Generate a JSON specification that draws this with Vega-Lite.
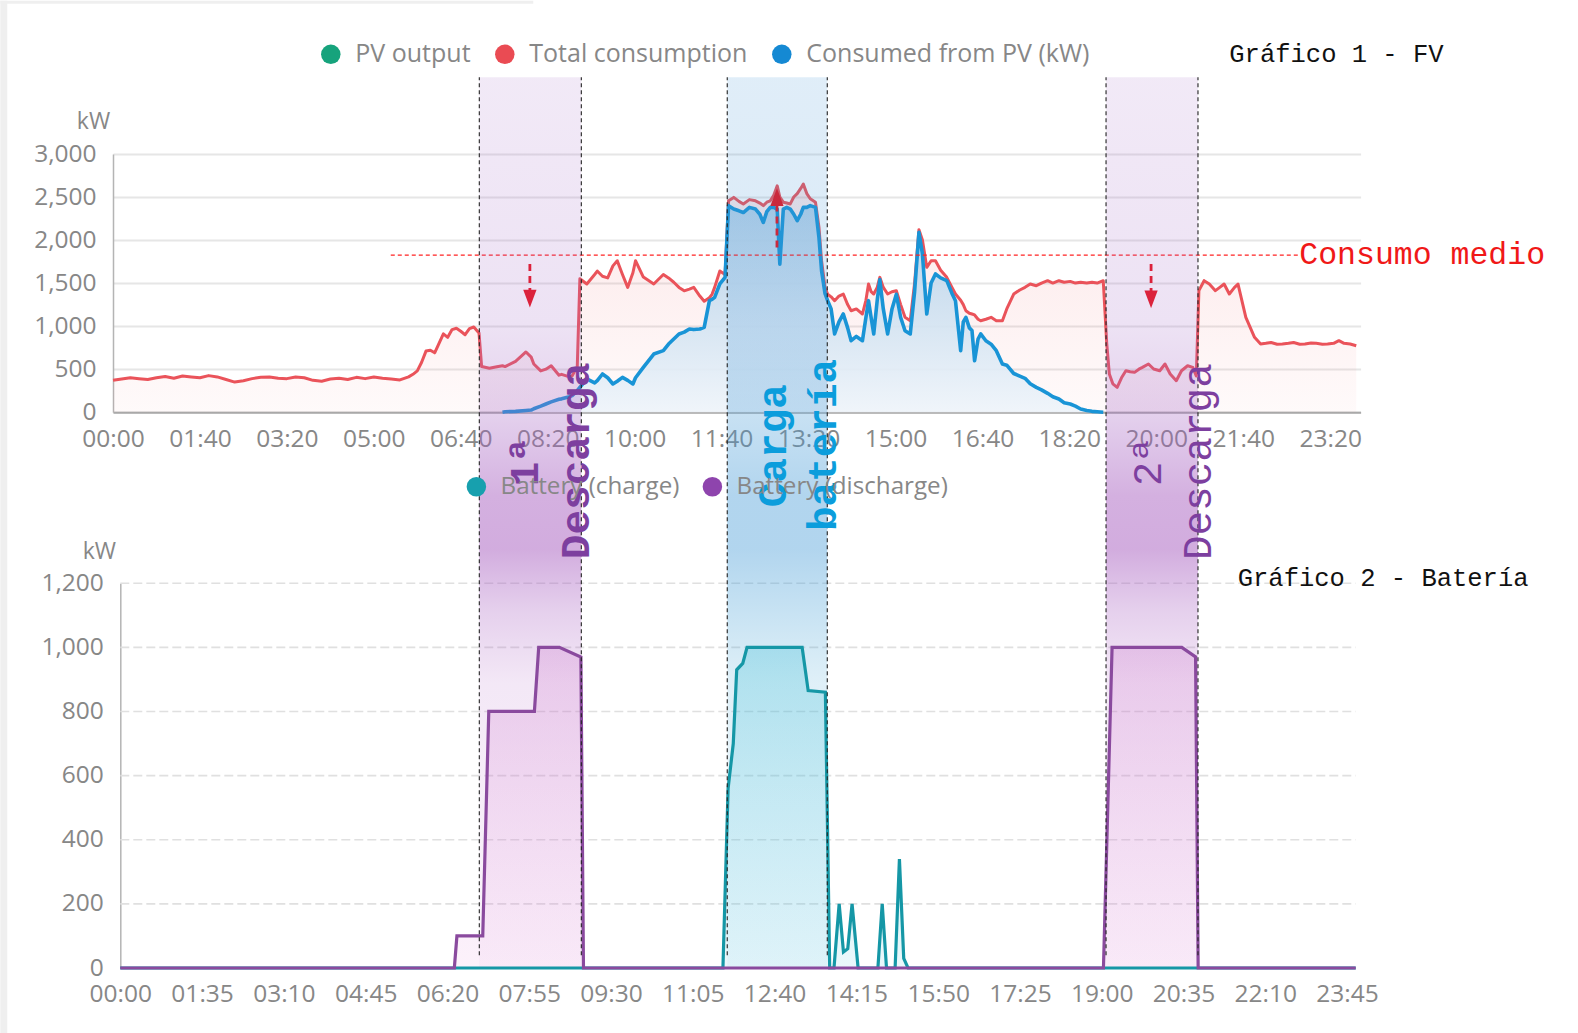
{
  "$schema": "https://vega.github.io/schema/vega-lite/v6.json",
  "padding": {"left": 0, "top": 0, "right": 0, "bottom": 25},
  "background": "white",
  "spacing": 170.2,
  "bounds": "flush",
  "resolve": {"scale": {"color": "independent"}, "legend": {"color": "independent"}},
  "config": {
    "font": "Open Sans",
    "view": {"stroke": null},
    "axis": {"labelFont": "Open Sans", "labelFontSize": 24.5, "labelColor": "#878787", "titleFont": "Open Sans", "titleFontSize": 23, "titleColor": "#878787", "titleFontWeight": "normal", "ticks": false, "grid": false, "labelFlush": false, "labelOverlap": false},
    "legend": {"labelFont": "Open Sans", "labelFontSize": 25, "labelColor": "#878787", "labelLimit": 0}
  },
  "datasets": {
    "pvdata": [
      {"t":0,"total":370},{"t":10,"total":385},{"t":20,"total":400},{"t":30,"total":390},{"t":40,"total":380},{"t":50,"total":400},{"t":60,"total":415},{"t":70,"total":395},{"t":80,"total":420},{"t":90,"total":410},{"t":100,"total":400},{"t":110,"total":425},{"t":120,"total":410},{"t":130,"total":380},{"t":140,"total":350},{"t":150,"total":365},{"t":160,"total":390},{"t":170,"total":405},{"t":180,"total":410},{"t":190,"total":395},{"t":200,"total":390},{"t":210,"total":410},{"t":220,"total":400},{"t":230,"total":370},{"t":240,"total":360},{"t":250,"total":385},{"t":260,"total":395},{"t":270,"total":380},{"t":280,"total":405},{"t":290,"total":390},{"t":300,"total":410},{"t":310,"total":395},{"t":320,"total":385},{"t":330,"total":375},{"t":340,"total":410},{"t":345,"total":440},{"t":350,"total":480},{"t":355,"total":580},{"t":360,"total":710},{"t":365,"total":720},{"t":370,"total":690},{"t":375,"total":800},{"t":380,"total":910},{"t":385,"total":870},{"t":390,"total":960},{"t":395,"total":975},{"t":400,"total":940},{"t":405,"total":900},{"t":410,"total":970},{"t":415,"total":990},{"t":421,"total":920},{"t":424,"total":530},{"t":433,"total":510},{"t":440,"total":525},
      {"t":448,"total":540,"pv":0},{"t":451,"total":530,"pv":5},{"t":463,"total":590,"pv":10},{"t":475,"total":700,"pv":20},{"t":481,"total":640,"pv":25},{"t":484,"total":560,"pv":40},{"t":492,"total":480,"pv":70},{"t":498,"total":500,"pv":95},{"t":504,"total":540,"pv":120},{"t":513,"total":430,"pv":150},{"t":516,"total":440,"pv":155},{"t":525,"total":410,"pv":180},{"t":528,"total":420,"pv":192},{"t":534,"total":530,"pv":250},{"t":537,"total":1550,"pv":289},{"t":545,"total":1490,"pv":386},{"t":554,"total":1600,"pv":340},{"t":557,"total":1640,"pv":366},{"t":563,"total":1580,"pv":444},{"t":569,"total":1560,"pv":400},{"t":575,"total":1700,"pv":328},{"t":580,"total":1760,"pv":360},{"t":586,"total":1600,"pv":405},{"t":592,"total":1450,"pv":370},{"t":598,"total":1620,"pv":328},{"t":601,"total":1760,"pv":400},{"t":610,"total":1570,"pv":521},{"t":622,"total":1490,"pv":676},{"t":633,"total":1600,"pv":715},{"t":639,"total":1560,"pv":792},{"t":645,"total":1510,"pv":850},{"t":651,"total":1450,"pv":909},{"t":657,"total":1410,"pv":930},{"t":663,"total":1430,"pv":967},{"t":668,"total":1450,"pv":960},{"t":675,"total":1350,"pv":967},{"t":680,"total":1290,"pv":985},{"t":686,"total":1330,"pv":1296},{"t":689,"total":1370,"pv":1310},{"t":692,"total":1450,"pv":1334},{"t":698,"total":1640,"pv":1490},{"t":704,"total":1600,"pv":1567},
      {"t":708,"total":2456,"pv":2400},{"t":714,"total":2496,"pv":2360},{"t":720,"total":2450,"pv":2340},{"t":725,"total":2420,"pv":2320},{"t":732,"total":2470,"pv":2380},{"t":739,"total":2456,"pv":2360},{"t":744,"total":2430,"pv":2300},{"t":748,"total":2400,"pv":2205},{"t":752,"total":2440,"pv":2330},{"t":756,"total":2456,"pv":2380},{"t":760,"total":2520,"pv":2380},{"t":764,"total":2630,"pv":2360},{"t":767,"total":2500,"pv":1720},{"t":771,"total":2440,"pv":2360},{"t":775,"total":2430,"pv":2380},{"t":779,"total":2420,"pv":2360},{"t":783,"total":2500,"pv":2300},{"t":787,"total":2540,"pv":2225},{"t":791,"total":2600,"pv":2300},{"t":794,"total":2650,"pv":2380},{"t":798,"total":2540,"pv":2380},{"t":802,"total":2480,"pv":2400},{"t":808,"total":2440,"pv":2380},{"t":812,"total":2150,"pv":2030},{"t":815,"total":1760,"pv":1645},{"t":819,"total":1450,"pv":1377},{"t":822,"total":1370,"pv":1296},
      {"t":826,"total":1340,"pv":1200},{"t":830,"total":1295,"pv":909},{"t":835,"total":1350,"pv":1050},{"t":840,"total":1373,"pv":1141},{"t":845,"total":1250,"pv":980},{"t":849,"total":1179,"pv":831},{"t":855,"total":1200,"pv":880},{"t":862,"total":1141,"pv":831},{"t":866,"total":1300,"pv":1100},{"t":869,"total":1490,"pv":1296},{"t":872,"total":1400,"pv":1100},{"t":875,"total":1373,"pv":909},{"t":879,"total":1450,"pv":1300},{"t":882,"total":1567,"pv":1540},{"t":886,"total":1450,"pv":1200},{"t":891,"total":1373,"pv":909},{"t":896,"total":1400,"pv":1200},{"t":901,"total":1412,"pv":1370},{"t":906,"total":1250,"pv":1100},{"t":911,"total":1102,"pv":947},{"t":917,"total":1063,"pv":909},{"t":922,"total":1500,"pv":1400},{"t":927,"total":2120,"pv":2090},{"t":931,"total":2000,"pv":1840},{"t":936,"total":1683,"pv":1141},{"t":941,"total":1760,"pv":1500},{"t":946,"total":1760,"pv":1606},{"t":952,"total":1650,"pv":1560},{"t":959,"total":1567,"pv":1528},{"t":965,"total":1450,"pv":1380},{"t":969,"total":1373,"pv":1296},{"t":975,"total":1300,"pv":715},{"t":978,"total":1250,"pv":1050},{"t":981,"total":1179,"pv":1102},{"t":985,"total":1150,"pv":980},{"t":988,"total":1141,"pv":950},{"t":991,"total":1130,"pv":598},{"t":995,"total":1080,"pv":850},{"t":998,"total":1063,"pv":909},{"t":1004,"total":1080,"pv":830},{"t":1010,"total":1102,"pv":790},{"t":1016,"total":1063,"pv":715},{"t":1023,"total":1063,"pv":560},{"t":1028,"total":1200,"pv":546},{"t":1036,"total":1373,"pv":450},{"t":1043,"total":1420,"pv":420},{"t":1049,"total":1451,"pv":394},{"t":1055,"total":1490,"pv":330},{"t":1062,"total":1470,"pv":289},{"t":1068,"total":1500,"pv":260},{"t":1075,"total":1528,"pv":219},{"t":1081,"total":1500,"pv":180},{"t":1088,"total":1528,"pv":153},{"t":1094,"total":1510,"pv":110},{"t":1101,"total":1520,"pv":95},{"t":1107,"total":1500,"pv":70},{"t":1113,"total":1510,"pv":37},{"t":1120,"total":1500,"pv":20},{"t":1126,"total":1510,"pv":10},{"t":1132,"total":1500,"pv":5},{"t":1139,"total":1528,"pv":0},
      {"t":1143,"total":800},{"t":1146,"total":444},{"t":1150,"total":330},{"t":1155,"total":289},{"t":1160,"total":400},{"t":1165,"total":482},{"t":1170,"total":470},{"t":1175,"total":463},{"t":1180,"total":500},{"t":1184,"total":521},{"t":1191,"total":560},{"t":1197,"total":502},{"t":1204,"total":482},{"t":1210,"total":560},{"t":1216,"total":444},{"t":1223,"total":366},{"t":1229,"total":482},{"t":1236,"total":540},{"t":1242,"total":521},{"t":1246,"total":420},{"t":1249,"total":1412},{"t":1255,"total":1528},{"t":1261,"total":1489},{"t":1268,"total":1412},{"t":1273,"total":1450},{"t":1278,"total":1489},{"t":1284,"total":1373},{"t":1290,"total":1450},{"t":1294,"total":1489},{"t":1303,"total":1102},{"t":1313,"total":870},{"t":1320,"total":792},{"t":1326,"total":800},{"t":1332,"total":810},{"t":1339,"total":790},{"t":1345,"total":792},{"t":1352,"total":800},{"t":1358,"total":810},{"t":1365,"total":790},{"t":1371,"total":792},{"t":1378,"total":805},{"t":1384,"total":800},{"t":1391,"total":790},{"t":1397,"total":792},{"t":1404,"total":800},{"t":1410,"total":831},{"t":1416,"total":800},{"t":1423,"total":792},{"t":1430,"total":772}
    ],
    "batdata": [
      {"t":0,"ch":0,"dis":0},{"t":388,"ch":0,"dis":0},{"t":391,"ch":0,"dis":100},{"t":421,"ch":0,"dis":100},{"t":428,"ch":0,"dis":800},{"t":481,"ch":0,"dis":800},{"t":486,"ch":0,"dis":1000},{"t":510,"ch":0,"dis":1000},{"t":535,"ch":0,"dis":970},{"t":538,"ch":0,"dis":0},
      {"t":700,"ch":0,"dis":0},{"t":706,"ch":560,"dis":0},{"t":712,"ch":700,"dis":0},{"t":716,"ch":930,"dis":0},{"t":723,"ch":950,"dis":0},{"t":728,"ch":1000,"dis":0},{"t":792,"ch":1000,"dis":0},{"t":799,"ch":865,"dis":0},{"t":819,"ch":860,"dis":0},{"t":824,"ch":0,"dis":0},{"t":829,"ch":0,"dis":0},{"t":835,"ch":200,"dis":0},{"t":840,"ch":50,"dis":0},{"t":845,"ch":60,"dis":0},{"t":850,"ch":200,"dis":0},{"t":857,"ch":0,"dis":0},{"t":880,"ch":0,"dis":0},{"t":885,"ch":200,"dis":0},{"t":890,"ch":0,"dis":0},{"t":900,"ch":0,"dis":0},{"t":905,"ch":340,"dis":0},{"t":910,"ch":30,"dis":0},{"t":915,"ch":0,"dis":0},
      {"t":1142,"ch":0,"dis":0},{"t":1152,"ch":0,"dis":1000},{"t":1233,"ch":0,"dis":1000},{"t":1249,"ch":0,"dis":970},{"t":1252,"ch":0,"dis":0},{"t":1435,"ch":0,"dis":0}
    ]
  },
  "vconcat": [
    {
      "width": 1247.6,
      "height": 258.2,
      "data": {"name": "pvdata"},
      "layer": [
        {
          "mark": {"type": "area", "line": false, "color": {"gradient": "linear", "x1": 0, "y1": 0, "x2": 0, "y2": 1, "stops": [{"offset": 0, "color": "rgba(238,95,100,0.15)"}, {"offset": 1, "color": "rgba(238,95,100,0.03)"}]}},
          "encoding": {
            "x": {"field": "t", "type": "quantitative", "title": null, "scale": {"domain": [0, 1435], "nice": false, "zero": false},
                  "axis": {"values": [0,100,200,300,400,500,600,700,800,900,1000,1100,1200,1300,1400], "labelExpr": "(datum.value < 600 ? '0' : '') + floor(datum.value / 60) + ':' + (datum.value % 60 < 10 ? '0' : '') + (datum.value % 60)", "domainColor": "#a9a9a9", "domainWidth": 2, "labelPadding": 15}},
            "y": {"field": "total", "type": "quantitative", "title": "kW", "scale": {"domain": [0, 3000], "nice": false},
                  "axis": {"values": [0,500,1000,1500,2000,2500,3000], "labelExpr": "datum.value >= 1000 ? floor(datum.value / 1000) + ',' + (datum.value % 1000 == 0 ? '000' : '' + (datum.value % 1000)) : '' + datum.value", "titleAngle": 0, "titleX": -20, "titleY": -32.5, "titleAlign": "center", "titleBaseline": "middle", "grid": true, "gridColor": "#e6e6e6", "gridWidth": 2, "domainColor": "#b4b4b4", "domainWidth": 1.5, "labelPadding": 17}}
          }
        },
        {
          "mark": {"type": "area", "line": false, "color": {"gradient": "linear", "x1": 0, "y1": 0, "x2": 0, "y2": 1, "stops": [{"offset": 0, "color": "rgba(176,207,232,0.93)"}, {"offset": 1, "color": "rgba(238,244,250,0.9)"}]}},
          "encoding": {"x": {"field": "t", "type": "quantitative", "title": null}, "y": {"field": "pv", "type": "quantitative", "title": "kW"}}
        },
        {
          "mark": {"type": "line", "stroke": "#ea535a", "strokeWidth": 3, "strokeJoin": "round"},
          "encoding": {"x": {"field": "t", "type": "quantitative", "title": null}, "y": {"field": "total", "type": "quantitative", "title": "kW"}}
        },
        {
          "mark": {"type": "line", "stroke": "#1994d6", "strokeWidth": 3.6, "strokeJoin": "round"},
          "encoding": {"x": {"field": "t", "type": "quantitative", "title": null}, "y": {"field": "pv", "type": "quantitative", "title": "kW"}}
        },
        {
          "data": {"values": [{"s": "PV output", "t": 0, "v": 0}, {"s": "Total consumption", "t": 0, "v": 0}, {"s": "Consumed from PV (kW)", "t": 0, "v": 0}]},
          "mark": {"type": "point", "filled": true, "opacity": 0},
          "encoding": {
            "x": {"field": "t", "type": "quantitative", "title": null}, "y": {"field": "v", "type": "quantitative", "title": "kW"},
            "color": {"field": "s", "type": "nominal", "scale": {"domain": ["PV output", "Total consumption", "Consumed from PV (kW)"], "range": ["#16a37c", "#ea4b53", "#1589d3"]},
                      "legend": {"orient": "none", "legendX": 205.3, "legendY": -112.4, "direction": "horizontal", "title": null, "symbolType": "circle", "symbolSize": 380, "symbolOpacity": 1, "symbolStrokeWidth": 0, "labelOffset": 12, "columnPadding": 21, "padding": 0}}
          }
        },
        {
          "data": {"values": [{"t1": 319.5, "t2": 1364.5, "v": 1826}]},
          "mark": {"type": "rule", "stroke": "#ff2222", "strokeWidth": 1.2, "strokeDash": [4, 3]},
          "encoding": {"x": {"field": "t1", "type": "quantitative", "title": null}, "x2": {"field": "t2", "title": null}, "y": {"field": "v", "type": "quantitative", "title": "kW"}}
        },
        {
          "data": {"values": [{"t": 1364.5, "v": 1722, "label": "Consumo medio"}]},
          "mark": {"type": "text", "font": "Liberation Mono", "fontSize": 31.5, "color": "#f01818", "align": "left", "baseline": "alphabetic"},
          "encoding": {"x": {"field": "t", "type": "quantitative", "title": null}, "y": {"field": "v", "type": "quantitative", "title": "kW"}, "text": {"field": "label"}}
        },
        {
          "data": {"values": [{"t": 479.5, "v1": 1722, "v2": 1400}, {"t": 1194, "v1": 1722, "v2": 1400}, {"t": 763.7, "v1": 1915, "v2": 2420}]},
          "mark": {"type": "rule", "stroke": "#e8101a", "strokeWidth": 2.8, "strokeDash": [7, 5]},
          "encoding": {"x": {"field": "t", "type": "quantitative", "title": null}, "y": {"field": "v1", "type": "quantitative", "title": "kW"}, "y2": {"field": "v2", "title": "kW"}}
        },
        {
          "data": {"values": [{"t": 479.5, "v": 1320}, {"t": 1194, "v": 1310}]},
          "mark": {"type": "point", "filled": true, "shape": "M-0.75,-1L0.75,-1L0,1Z", "size": 313, "color": "#e8101a", "opacity": 1},
          "encoding": {"x": {"field": "t", "type": "quantitative", "title": null}, "y": {"field": "v", "type": "quantitative", "title": "kW"}}
        },
        {
          "data": {"values": [{"t": 763.7, "v": 2500}]},
          "mark": {"type": "point", "filled": true, "shape": "M-0.75,1L0.75,1L0,-1Z", "size": 313, "color": "#e8101a", "opacity": 1},
          "encoding": {"x": {"field": "t", "type": "quantitative", "title": null}, "y": {"field": "v", "type": "quantitative", "title": "kW"}}
        },
        {
          "data": {"values": [{"t": 1284, "v": 4064, "label": "Gráfico 1 - FV"}]},
          "mark": {"type": "text", "font": "Liberation Mono", "fontSize": 25.5, "color": "#111111", "align": "left", "baseline": "alphabetic"},
          "encoding": {"x": {"field": "t", "type": "quantitative", "title": null}, "y": {"field": "v", "type": "quantitative", "title": "kW"}, "text": {"field": "label"}}
        },
        {
          "data": {"values": [{"a": -129.63, "b": -121.6, "lo": -7221, "hi": 4781}, {"a": -129.63, "b": 483.4, "lo": 4746, "hi": 4781}]},
          "mark": {"type": "rect", "color": "#efefef"},
          "encoding": {"x": {"field": "a", "type": "quantitative", "title": null}, "x2": {"field": "b", "title": null}, "y": {"field": "lo", "type": "quantitative", "title": "kW"}, "y2": {"field": "hi", "title": "kW"}}
        },
        {
          "data": {"values": [{"t": -129.63, "v": 4781}]},
          "mark": {"type": "point", "size": 0, "opacity": 0, "strokeWidth": 0},
          "encoding": {"x": {"field": "t", "type": "quantitative", "title": null}, "y": {"field": "v", "type": "quantitative", "title": "kW"}}
        }
      ]
    },
    {
      "width": 1242.7,
      "height": 384.8,
      "layer": [
        {
          "data": {"values": [{"g": 200, "a": 0, "b": 1435}, {"g": 400, "a": 0, "b": 1435}, {"g": 600, "a": 0, "b": 1435}, {"g": 800, "a": 0, "b": 1435}, {"g": 1000, "a": 0, "b": 1435}, {"g": 1200, "a": 0, "b": 1435}]},
          "mark": {"type": "rule", "stroke": "#e0e0e0", "strokeWidth": 1.6, "strokeDash": [9, 4]},
          "encoding": {"y": {"field": "g", "type": "quantitative", "title": "kW"}, "x": {"field": "a", "type": "quantitative", "title": null}, "x2": {"field": "b", "title": null}}
        },
        {
          "data": {"values": [{"a": 417, "b": 535.5, "lo": 0, "hi": 2778}, {"a": 1145, "b": 1251.8, "lo": 0, "hi": 2778}]},
          "mark": {"type": "rect", "color": {"gradient": "linear", "x1": 0, "y1": 0, "x2": 0, "y2": 1, "stops": [{"offset": 0, "color": "rgba(165,110,200,0.15)"}, {"offset": 0.28, "color": "rgba(165,110,200,0.2)"}, {"offset": 0.38, "color": "rgba(165,100,195,0.3)"}, {"offset": 0.47, "color": "rgba(165,90,190,0.48)"}, {"offset": 0.53, "color": "rgba(165,90,190,0.5)"}, {"offset": 0.6, "color": "rgba(170,100,195,0.3)"}, {"offset": 0.68, "color": "rgba(180,110,200,0.16)"}, {"offset": 1, "color": "rgba(200,130,210,0.08)"}]}},
          "encoding": {"x": {"field": "a", "type": "quantitative", "title": null}, "x2": {"field": "b", "title": null}, "y": {"field": "lo", "type": "quantitative", "title": "kW"}, "y2": {"field": "hi", "title": "kW"}}
        },
        {
          "data": {"values": [{"a": 705, "b": 821.2, "lo": 0, "hi": 2778}]},
          "mark": {"type": "rect", "color": {"gradient": "linear", "x1": 0, "y1": 0, "x2": 0, "y2": 1, "stops": [{"offset": 0, "color": "rgba(70,150,215,0.17)"}, {"offset": 0.28, "color": "rgba(70,150,215,0.2)"}, {"offset": 0.38, "color": "rgba(70,155,215,0.3)"}, {"offset": 0.47, "color": "rgba(70,155,215,0.42)"}, {"offset": 0.53, "color": "rgba(70,155,215,0.42)"}, {"offset": 0.6, "color": "rgba(70,160,215,0.3)"}, {"offset": 0.68, "color": "rgba(80,170,215,0.18)"}, {"offset": 1, "color": "rgba(90,180,220,0.08)"}]}},
          "encoding": {"x": {"field": "a", "type": "quantitative", "title": null}, "x2": {"field": "b", "title": null}, "y": {"field": "lo", "type": "quantitative", "title": "kW"}, "y2": {"field": "hi", "title": "kW"}}
        },
        {
          "data": {"name": "batdata"},
          "mark": {"type": "area", "line": false, "color": {"gradient": "linear", "x1": 0, "y1": 0, "x2": 0, "y2": 1, "stops": [{"offset": 0, "color": "rgba(60,190,215,0.3)"}, {"offset": 1, "color": "rgba(120,210,232,0.16)"}]}},
          "encoding": {
            "x": {"field": "t", "type": "quantitative", "title": null, "scale": {"domain": [-8.49, 1435], "nice": false, "zero": false},
                  "axis": {"values": [0,95,190,285,380,475,570,665,760,855,950,1045,1140,1235,1330,1425], "labelExpr": "(datum.value < 600 ? '0' : '') + floor(datum.value / 60) + ':' + (datum.value % 60 < 10 ? '0' : '') + (datum.value % 60)", "domain": false, "labelPadding": 14}},
            "y": {"field": "ch", "type": "quantitative", "title": "kW", "scale": {"domain": [0, 1200], "nice": false},
                  "axis": {"values": [0,200,400,600,800,1000,1200], "labelExpr": "datum.value >= 1000 ? floor(datum.value / 1000) + ',' + (datum.value % 1000 == 0 ? '000' : '' + (datum.value % 1000)) : '' + datum.value", "titleAngle": 0, "titleX": -21.4, "titleY": -32, "titleAlign": "center", "titleBaseline": "middle", "offset": -7.3, "grid": false, "domainColor": "#b4b4b4", "domainWidth": 1.5, "labelPadding": 17}}
          }
        },
        {
          "data": {"name": "batdata"},
          "mark": {"type": "area", "line": false, "color": {"gradient": "linear", "x1": 0, "y1": 0, "x2": 0, "y2": 1, "stops": [{"offset": 0, "color": "rgba(200,110,200,0.26)"}, {"offset": 1, "color": "rgba(235,160,225,0.14)"}]}},
          "encoding": {"x": {"field": "t", "type": "quantitative", "title": null}, "y": {"field": "dis", "type": "quantitative", "title": "kW"}}
        },
        {
          "data": {"name": "batdata"},
          "mark": {"type": "line", "stroke": "#1597a6", "strokeWidth": 3.2},
          "encoding": {"x": {"field": "t", "type": "quantitative", "title": null}, "y": {"field": "ch", "type": "quantitative", "title": "kW"}}
        },
        {
          "data": {"name": "batdata"},
          "mark": {"type": "line", "stroke": "#8a4a9e", "strokeWidth": 3.2},
          "encoding": {"x": {"field": "t", "type": "quantitative", "title": null}, "y": {"field": "dis", "type": "quantitative", "title": "kW"}}
        },
        {
          "data": {"values": [{"t": 417, "lo": 40, "hi": 2778}, {"t": 535.5, "lo": 40, "hi": 2778}, {"t": 705, "lo": 40, "hi": 2778}, {"t": 821.2, "lo": 40, "hi": 2778}, {"t": 1145, "lo": 40, "hi": 2778}, {"t": 1251.8, "lo": 40, "hi": 2778}]},
          "mark": {"type": "rule", "stroke": "#222222", "strokeWidth": 1.1, "strokeDash": [4, 3]},
          "encoding": {"x": {"field": "t", "type": "quantitative", "title": null}, "y": {"field": "lo", "type": "quantitative", "title": "kW"}, "y2": {"field": "hi", "title": "kW"}}
        },
        {
          "data": {"values": [{"t": 471.6, "v": 1579, "label": "1ª"}, {"t": 530.8, "v": 1582, "label": "Descarga"}]},
          "mark": {"type": "text", "font": "Liberation Mono", "fontSize": 41, "fontWeight": "bold", "color": "#7d3f9f", "angle": 270, "align": "center", "baseline": "middle"},
          "encoding": {"x": {"field": "t", "type": "quantitative", "title": null}, "y": {"field": "v", "type": "quantitative", "title": "kW"}, "text": {"field": "label"}}
        },
        {
          "data": {"values": [{"t": 759.6, "v": 1629, "label": "Carga"}, {"t": 817.8, "v": 1631, "label": "batería"}]},
          "mark": {"type": "text", "font": "Liberation Mono", "fontSize": 41, "fontWeight": "bold", "color": "#0b9ddc", "angle": 270, "align": "center", "baseline": "middle"},
          "encoding": {"x": {"field": "t", "type": "quantitative", "title": null}, "y": {"field": "v", "type": "quantitative", "title": "kW"}, "text": {"field": "label"}}
        },
        {
          "data": {"values": [{"t": 1195.3, "v": 1579, "label": "2ª"}, {"t": 1253.3, "v": 1579, "label": "Descarga"}]},
          "mark": {"type": "text", "font": "Liberation Mono", "fontSize": 41, "fontWeight": "normal", "color": "#7d3f9f", "angle": 270, "align": "center", "baseline": "middle"},
          "encoding": {"x": {"field": "t", "type": "quantitative", "title": null}, "y": {"field": "v", "type": "quantitative", "title": "kW"}, "text": {"field": "label"}}
        },
        {
          "data": {"values": [{"t": 1298, "v": 1190.5, "label": "Gráfico 2 - Batería"}]},
          "mark": {"type": "text", "font": "Liberation Mono", "fontSize": 25.5, "color": "#111111", "align": "left", "baseline": "alphabetic"},
          "encoding": {"x": {"field": "t", "type": "quantitative", "title": null}, "y": {"field": "v", "type": "quantitative", "title": "kW"}, "text": {"field": "label"}}
        },
        {
          "data": {"values": [{"s": "Battery (charge)", "t": 0, "v": 0}, {"s": "Battery (discharge)", "t": 0, "v": 0}]},
          "mark": {"type": "point", "filled": true, "opacity": 0},
          "encoding": {
            "x": {"field": "t", "type": "quantitative", "title": null}, "y": {"field": "v", "type": "quantitative", "title": "kW"},
            "color": {"field": "s", "type": "nominal", "scale": {"domain": ["Battery (charge)", "Battery (discharge)"], "range": ["#17a0ae", "#8e44ad"]},
                      "legend": {"orient": "none", "legendX": 351.3, "legendY": -108.9, "direction": "horizontal", "title": null, "symbolType": "circle", "symbolSize": 380, "symbolOpacity": 1, "symbolStrokeWidth": 0, "labelOffset": 12, "columnPadding": 20, "padding": 0, "labelFontSize": 24.2}}
          }
        }
      ]
    }
  ]
}
